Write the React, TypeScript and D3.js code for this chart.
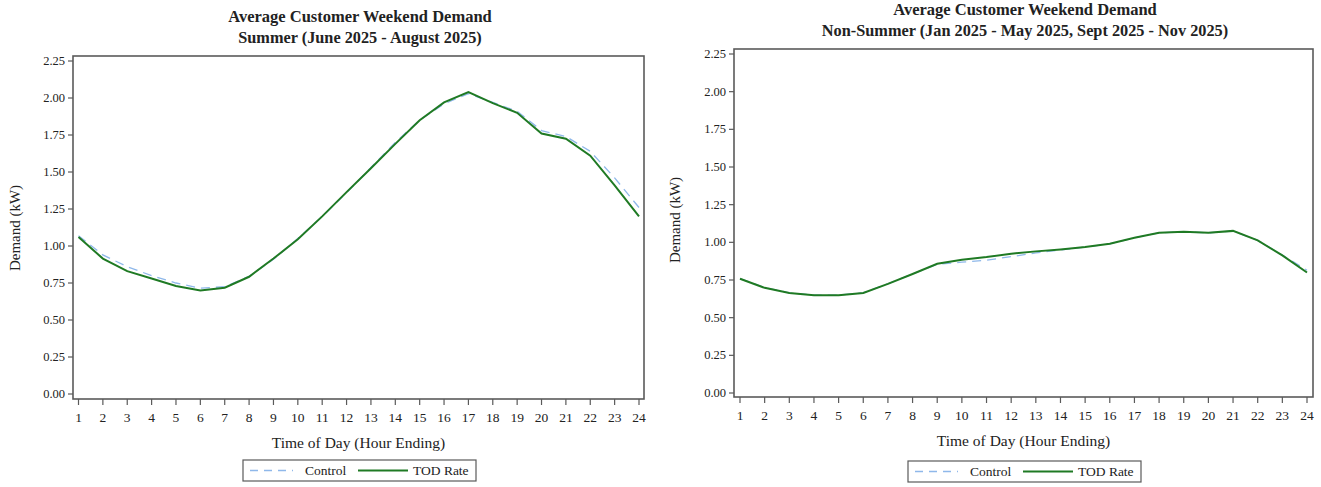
import React from "react";
import * as d3 from "d3";

// Hour-ending labels shared by both panels
const hours: number[] = d3.range(1, 25);
const yTicks: number[] = [0, 0.25, 0.5, 0.75, 1.0, 1.25, 1.5, 1.75, 2.0, 2.25];

// Summer (June - August 2025), average kW per hour
const summerControl: number[] = [
  1.07, 0.94, 0.86, 0.8, 0.75, 0.715, 0.725, 0.795, 0.91, 1.05, 1.2, 1.36,
  1.53, 1.7, 1.85, 1.96, 2.03, 1.97, 1.91, 1.78, 1.74, 1.64, 1.46, 1.26,
];
const summerTOD: number[] = [
  1.06, 0.915, 0.83, 0.78, 0.73, 0.7, 0.718, 0.792, 0.915, 1.045, 1.2, 1.364,
  1.525, 1.69, 1.85, 1.97, 2.04, 1.965, 1.9, 1.76, 1.725, 1.61, 1.41, 1.2,
];

// Non-summer (Jan - May 2025, Sept - Nov 2025), average kW per hour
const nonSummerControl: number[] = [
  0.76, 0.7, 0.665, 0.65, 0.65, 0.665, 0.725, 0.79, 0.855, 0.868, 0.882,
  0.905, 0.93, 0.95, 0.968, 0.99, 1.03, 1.063, 1.07, 1.063, 1.075, 1.013,
  0.915, 0.815,
];
const nonSummerTOD: number[] = [
  0.758, 0.698, 0.664, 0.649, 0.649, 0.664, 0.724, 0.79, 0.858, 0.884,
  0.902, 0.924, 0.94, 0.953, 0.969, 0.991, 1.031, 1.064, 1.071, 1.064, 1.076,
  1.013, 0.913, 0.8,
];

const FONT = "'Liberation Serif', 'Times New Roman', serif";
const GREEN = "#1f7a24";
const BLUE = "#8fb8ea";
const FRAME = "#5a5a5a";

type Layout = {
  frame: [number, number, number, number]; // left, top, right, bottom
  xRange: [number, number];
  yRange: [number, number];
  titleX: number;
  titleY: [number, number];
  xTitleY: number;
  yTitleX: number;
  yTitleY: number;
  legend: [number, number, number, number];
};

type PanelProps = {
  title: string;
  subtitle: string;
  control: number[];
  tod: number[];
  layout: Layout;
};

function Panel({ title, subtitle, control, tod, layout }: PanelProps) {
  const [fl, ft, fr, fb] = layout.frame;
  const x = d3.scaleLinear().domain([1, 24]).range(layout.xRange);
  const y = d3.scaleLinear().domain([0, 2.25]).range(layout.yRange);
  const line = d3
    .line<number>()
    .x((_, i) => x(hours[i]))
    .y((d) => y(d));
  const [lx, ly, lw, lh] = layout.legend;
  const lMid = ly + lh / 2;
  const cx = (fl + fr) / 2;

  return (
    <g fontFamily={FONT} fill="#222">
      <text x={layout.titleX} y={layout.titleY[0]} textAnchor="middle" fontWeight="bold" fontSize={16.5}>
        {title}
      </text>
      <text x={layout.titleX} y={layout.titleY[1]} textAnchor="middle" fontWeight="bold" fontSize={16.3}>
        {subtitle}
      </text>

      {/* plot frame */}
      <rect x={fl} y={ft} width={fr - fl} height={fb - ft} fill="none" stroke={FRAME} strokeWidth={1.6} />

      {/* y axis ticks */}
      {yTicks.map((t) => (
        <g key={t}>
          <line x1={fl - 5} x2={fl} y1={y(t)} y2={y(t)} stroke={FRAME} strokeWidth={1.2} />
          <text x={fl - 8} y={y(t) + 4} textAnchor="end" fontSize={12.5}>
            {t.toFixed(2)}
          </text>
        </g>
      ))}

      {/* x axis ticks */}
      {hours.map((h) => (
        <g key={h}>
          <line x1={x(h)} x2={x(h)} y1={fb} y2={fb + 6} stroke={FRAME} strokeWidth={1.2} />
          <text x={x(h)} y={fb + 23} textAnchor="middle" fontSize={13.5}>
            {h}
          </text>
        </g>
      ))}

      <text x={cx} y={layout.xTitleY} textAnchor="middle" fontSize={15.5}>
        Time of Day (Hour Ending)
      </text>
      <text
        transform={`translate(${layout.yTitleX},${layout.yTitleY}) rotate(-90)`}
        textAnchor="middle"
        fontSize={15}
      >
        Demand (kW)
      </text>

      {/* series */}
      <path d={line(control) ?? ""} fill="none" stroke={BLUE} strokeWidth={1.3} strokeDasharray="9,6" />
      <path d={line(tod) ?? ""} fill="none" stroke={GREEN} strokeWidth={2} />

      {/* legend */}
      <rect x={lx} y={ly} width={lw} height={lh} fill="white" stroke={FRAME} strokeWidth={1.2} />
      <line x1={lx + 7} x2={lx + 50} y1={lMid} y2={lMid} stroke={BLUE} strokeWidth={1.3} strokeDasharray="8,6" />
      <text x={lx + 62} y={lMid + 4.5} fontSize={13.5}>
        Control
      </text>
      <line x1={lx + 115} x2={lx + 165} y1={lMid} y2={lMid} stroke={GREEN} strokeWidth={2} />
      <text x={lx + 170} y={lMid + 4.5} fontSize={13.5}>
        TOD Rate
      </text>
    </g>
  );
}

const leftLayout: Layout = {
  frame: [73, 56, 644, 399],
  xRange: [78.5, 639],
  yRange: [394, 61],
  titleX: 360,
  titleY: [22, 43],
  xTitleY: 448,
  yTitleX: 20,
  yTitleY: 228,
  legend: [243, 460, 233, 21],
};

const rightLayout: Layout = {
  frame: [734, 49, 1313, 397],
  xRange: [740, 1307],
  yRange: [393, 54],
  titleX: 1025,
  titleY: [15, 36],
  xTitleY: 446,
  yTitleX: 680,
  yTitleY: 220,
  legend: [908, 461, 233, 21],
};

export default function App() {
  return (
    <svg
      width={1321}
      height={487}
      style={{ position: "absolute", left: 0, top: 0, background: "white" }}
    >
      <rect width={1321} height={487} fill="white" />
      <Panel
        title="Average Customer Weekend Demand"
        subtitle="Summer (June 2025 - August 2025)"
        control={summerControl}
        tod={summerTOD}
        layout={leftLayout}
      />
      <Panel
        title="Average Customer Weekend Demand"
        subtitle="Non-Summer (Jan 2025 - May 2025, Sept 2025 - Nov 2025)"
        control={nonSummerControl}
        tod={nonSummerTOD}
        layout={rightLayout}
      />
    </svg>
  );
}
